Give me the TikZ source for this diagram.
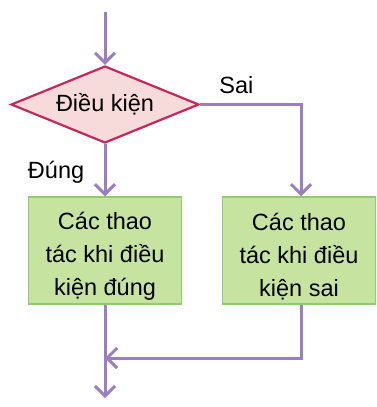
\documentclass[tikz,border=0pt]{standalone}
\usepackage{fontspec}
\setmainfont{Liberation Sans}
\usetikzlibrary{positioning,arrows.meta,shapes.geometric}
\definecolor{flowline}{HTML}{9B7DC2}
\definecolor{condfill}{HTML}{F7DADA}
\definecolor{conddraw}{HTML}{C4285C}
\definecolor{stepfill}{HTML}{C6E4A0}
\definecolor{stepdraw}{HTML}{92CA78}

\tikzset{
  flow/.style={draw=flowline, line width=3pt, -{Straight Barb[length=10pt,width=20pt,line width=3pt]}},
  condbox/.style={diamond, aspect=2.4, fill=condfill, draw=conddraw, line width=2.2pt, inner sep=0pt, minimum width=188pt, minimum height=77pt},
  stepbox/.style={rectangle, fill=stepfill, draw=stepdraw, line width=1.5pt, minimum width=153pt, minimum height=107pt, inner sep=0pt},
  steptext/.style={align=center, yshift=-6pt, inner sep=0pt}
}

\begin{document}
\begin{tikzpicture}[x=1pt,y=-1pt, font=\fontsize{23.5}{33}\selectfont]
\useasboundingbox (0,0) rectangle (376,407);
\coordinate (start) at (105,12);
\node[condbox] (cond) at (105,104.5) {Điều kiện};
\node[stepbox, label={[steptext]center:Các thao\\tác khi điều\\kiện đúng}] (yes) at (105,250.5) {};
\node[stepbox, label={[steptext]center:Các thao\\tác khi điều\\kiện sai}] (no) at (299,250.5) {};
\coordinate (join) at (105,358);
\coordinate (end) at (105,398);

\draw[flow] (start) -- (cond);
\draw[flow] (cond) -- node[left=16pt, pos=0.55] {Đúng} (yes);
\draw[flow] (cond.east) -| node[above=6pt, pos=0.18] {Sai} ([xshift=2pt]no.north);
\draw[flow] (yes) -- (end);
\draw[flow] ([xshift=2pt]no.south) |- (join);
\end{tikzpicture}
\end{document}
